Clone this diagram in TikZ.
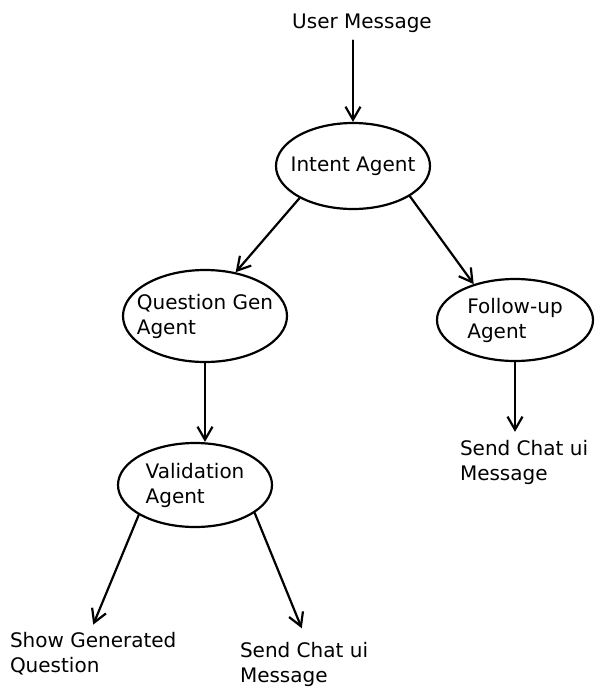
\documentclass[tikz,border=0pt]{standalone}
\usepackage{fontspec}
\setmainfont{DejaVu Sans}
\usetikzlibrary{shapes.geometric,arrows.meta}

\begin{document}
\begin{tikzpicture}[x=1pt, y=-1pt, line width=2.2pt, line cap=round,
    font=\fontsize{20}{25}\selectfont,
    agent/.style={draw, ellipse, inner sep=-14pt, align=left},
    txt/.style={align=left, inner sep=2pt, outer sep=6pt},
    flow/.style={-{Straight Barb[length=13pt, width=15pt]}}]
    \useasboundingbox (0,0) rectangle (602,694);

    \node[txt] (user) at (362, 23) {User Message};
    \node[agent, minimum width=154, minimum height=86] (intent) at (353, 166) {Intent Agent};
    \node[agent, minimum width=164, minimum height=92] (qgen) at (205, 316) {Question Gen\\Agent};
    \node[agent, minimum width=156, minimum height=82] (follow) at (515, 320) {Follow-up\\Agent};
    \node[agent, minimum width=154, minimum height=84] (valid) at (195, 485) {Validation\\Agent};

    \node[txt, anchor=west] (sendR) at (452, 462) {Send Chat ui\\Message};
    \node[txt, anchor=west] (show) at (2, 654) {Show Generated\\Question};
    \node[txt, anchor=west] (sendB) at (232, 664) {Send Chat ui\\Message};

    \draw[flow] (user.south -| intent.north) -- (intent.north);
    \draw[flow] (intent.211) -- (qgen.55);
    \draw[flow] (intent.-28) -- (follow.139);
    \draw[flow] (qgen.south) -- (qgen.south |- valid.north); % straight down
    \draw[flow] (follow.south) -- (follow.south |- sendR.north);
    \draw[flow] (valid.208) -- (show.north);
    \draw[flow, shorten >=6pt] (valid.-25) -- (sendB.north);
\end{tikzpicture}
\end{document}
